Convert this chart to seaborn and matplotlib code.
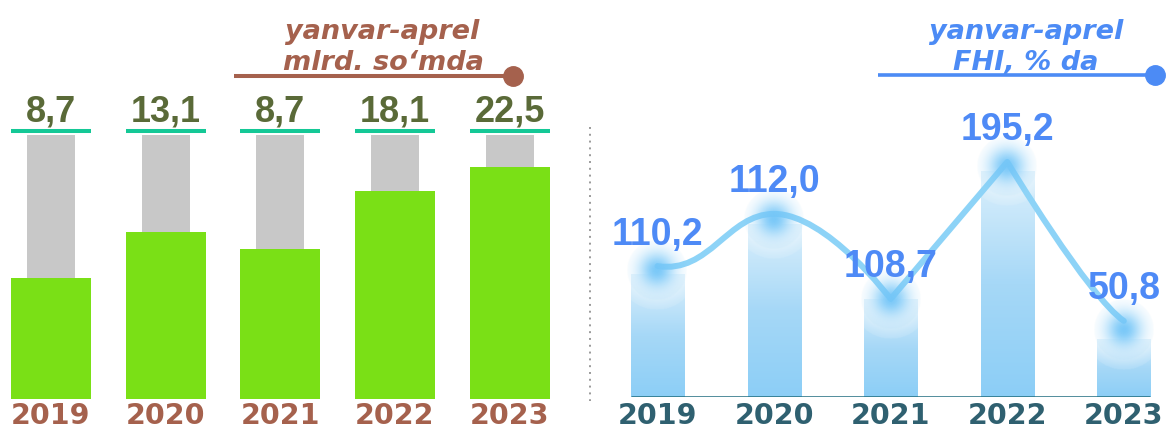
import numpy as np
import pandas as pd
import matplotlib
matplotlib.use("Agg")
import matplotlib.pyplot as plt
from matplotlib.path import Path
from matplotlib.patches import PathPatch
from matplotlib.lines import Line2D
from matplotlib.colors import LinearSegmentedColormap, to_rgb
import seaborn as sns

# ---------------- data ----------------
years = ["2019", "2020", "2021", "2022", "2023"]

# left panel: yanvar-aprel, mlrd. so'mda
mlrd_values = [8.7, 13.1, 8.7, 18.1, 22.5]
mlrd_full_level = [100, 100, 100, 100, 100]          # grey background bar (drawn level)
mlrd_fill_level = [45.8, 63.3, 56.8, 78.8, 87.9]     # green fill as drawn in the picture

# right panel: yanvar-aprel, FHI, % da
fhi_values = [110.2, 112.0, 108.7, 195.2, 50.8]
fhi_bar_level = [46.4, 65.3, 37.0, 85.3, 21.9]       # blue bar heights as drawn
fhi_line_level = [49.4, 69.1, 37.0, 88.7, 28.7]      # curve nodes as drawn


def fmt(v):
    return f"{v:.1f}".replace(".", ",")


# ---------------- style ----------------
sns.set_style("white")
plt.rcParams["font.family"] = ["DejaVu Sans"]

W, H = 1167, 431
fig = plt.figure(figsize=(W / 100, H / 100), dpi=100)
fig.patch.set_facecolor("white")


def px_rect(x0, y_top, w, h):
    return [x0 / W, (H - y_top - h) / H, w / W, h / H]


GREEN = "#7AE016"
GREY = "#C8C8C8"
TEAL = "#14C896"
OLIVE = "#5A6A38"
SIENNA = "#A5614D"
BLUE_TXT = "#4E8AF6"
SLATE = "#2F6070"

YEAR_FONT = dict(family="DejaVu Sans", weight="bold", size=20.5)
VAL_FONT = dict(family="Liberation Sans", weight="bold")
TITLE_FONT = dict(family="DejaVu Sans", weight="bold", style="oblique", size=19.5)

# ---------------- left panel ----------------
ax1 = fig.add_axes(px_rect(5.14, 80, 550.3, 320))
df1 = pd.DataFrame({"year": years, "full": mlrd_full_level,
                    "fill": mlrd_fill_level, "value": mlrd_values})
sns.barplot(data=df1, x="year", y="full", color=GREY, width=0.419,
            saturation=1, errorbar=None, linewidth=0, ax=ax1)
sns.barplot(data=df1, x="year", y="fill", color=GREEN, width=0.698,
            saturation=1, errorbar=None, linewidth=0, ax=ax1)
ax1.set_xlim(-0.4, 4.4)
ax1.set_ylim(0, 121.2)
xs = np.arange(len(years))
ax1.hlines([101.5] * len(xs), xs - 0.349, xs + 0.349, color=TEAL, lw=2.9)
for i, v in enumerate(mlrd_values):
    ax1.text(i, 105.3, fmt(v), ha="center", va="baseline", color=OLIVE,
             fontsize=26, **VAL_FONT)

# ---------------- right panel ----------------
ax2 = fig.add_axes(px_rect(587.5, 80, 579.5, 318))
df2 = pd.DataFrame({"year": years, "bar": fhi_bar_level,
                    "line": fhi_line_level, "value": fhi_values})
sns.barplot(data=df2, x="year", y="bar", color="#A9DAF7", width=0.455,
            saturation=1, errorbar=None, linewidth=0, ax=ax2)
cmap = LinearSegmentedColormap.from_list("g", ["#8CCEF6", "#A6D8F7", "#DCF0FC"])
grad = np.linspace(0, 1, 256).reshape(-1, 1)
for p in list(ax2.patches):
    x0, w, h = p.get_x(), p.get_width(), p.get_height()
    p.set_facecolor("none")
    im = ax2.imshow(grad, extent=[x0, x0 + w, 0, h], origin="lower",
                    aspect="auto", cmap=cmap, zorder=1)
    im.set_clip_path(p)


def glow(ax, x, y, r_px, color, amax, sigma, z):
    n = 121
    u = np.linspace(-1, 1, n)
    X, Y = np.meshgrid(u, u)
    r2 = X ** 2 + Y ** 2
    alpha = amax * np.exp(-r2 / (2 * sigma ** 2))
    alpha[r2 > 1] = 0
    rgba = np.zeros((n, n, 4))
    rgba[..., :3] = to_rgb(color)
    rgba[..., 3] = alpha
    rx = r_px / 116.6
    ry = r_px / 2.65
    ax.imshow(rgba, extent=[x - rx, x + rx, y - ry, y + ry], origin="lower",
              aspect="auto", zorder=z, interpolation="bilinear")


glow_y = [(b + l) / 2 for b, l in zip(fhi_bar_level, fhi_line_level)]
for i in range(len(xs)):
    glow(ax2, xs[i], glow_y[i], 40, "white", 0.9, 0.5, 2)

# smooth curve through the nodes (Bezier handles: style only)
h_out = [(0.45, -3.0), (0.45, 0.0), (0.0, 0.0), (0.0, 0.0)]
h_in = [(-0.4, 0.0), (0.0, 0.0), (0.0, 0.0), (-0.3, 9.0)]
verts = [(xs[0], fhi_line_level[0])]
codes = [Path.MOVETO]
for k in range(len(xs) - 1):
    p0 = np.array([xs[k], fhi_line_level[k]], float)
    p3 = np.array([xs[k + 1], fhi_line_level[k + 1]], float)
    verts += [tuple(p0 + h_out[k]), tuple(p3 + h_in[k]), tuple(p3)]
    codes += [Path.CURVE4] * 3
ax2.add_patch(PathPatch(Path(verts, codes), facecolor="none",
                        edgecolor="#8DD3F7", lw=4.3, capstyle="round",
                        joinstyle="round", zorder=3))

for i in range(len(xs)):
    glow(ax2, xs[i], glow_y[i], 30, "#74C6F8", 0.95, 0.42, 4)

ax2.hlines(0, xs[0] - 0.2275, xs[-1] + 0.2275, color="#1E6C7E", lw=1.8,
           zorder=5)
for i, v in enumerate(fhi_values):
    ax2.text(i, fhi_line_level[i] + 8.5, fmt(v), ha="center", va="baseline",
             color=BLUE_TXT, fontsize=27, zorder=6, **VAL_FONT)
ax2.set_xlim(-0.6, 4.37)
ax2.set_ylim(0, 120)

# ---------------- axes cosmetics ----------------
for ax, col, pad in [(ax1, SIENNA, 17.5), (ax2, SLATE, 18.6)]:
    ax.set_facecolor("none")
    for s in ax.spines.values():
        s.set_visible(False)
    ax.set_yticks([])
    ax.set_ylabel("")
    ax.set_xlabel("")
    ax.set_xticks(range(len(years)))
    ax.set_xticklabels(years)
    ax.tick_params(axis="x", length=0, pad=pad)
    for lbl in ax.get_xticklabels():
        lbl.set_color(col)
        lbl.set_fontfamily(YEAR_FONT["family"])
        lbl.set_fontweight(YEAR_FONT["weight"])
        lbl.set_fontsize(YEAR_FONT["size"])
        lbl.set_va("baseline")

# ---------------- titles & decorations ----------------
fig.text(382 / W, 1 - 39 / H, "yanvar-aprel", ha="center", va="baseline",
         color=SIENNA, **TITLE_FONT)
fig.text(383 / W, 1 - 70 / H, "mlrd. so‘mda", ha="center", va="baseline",
         color=SIENNA, **TITLE_FONT)
fig.add_artist(Line2D([234 / W, 513 / W], [1 - 77 / H, 1 - 77 / H],
                      color=SIENNA, lw=2.9, solid_capstyle="butt"))
fig.add_artist(Line2D([513 / W], [1 - 77 / H], marker="o", markersize=14,
                      color=SIENNA, lw=0))

fig.text(1026 / W, 1 - 39 / H, "yanvar-aprel", ha="center", va="baseline",
         color="#4C8BF5", **TITLE_FONT)
fig.text(1026 / W, 1 - 70 / H, "FHI, % da", ha="center", va="baseline",
         color="#4C8BF5", **TITLE_FONT)
fig.add_artist(Line2D([878 / W, 1155 / W], [1 - 76 / H, 1 - 76 / H],
                      color="#4C8BF5", lw=2.6, solid_capstyle="butt"))
fig.add_artist(Line2D([1155 / W], [1 - 76 / H], marker="o", markersize=14,
                      color="#4C8BF5", lw=0))

# dotted separator
fig.add_artist(Line2D([590 / W, 590 / W], [1 - 128 / H, 1 - 402 / H],
                      color="#9A9A9A", lw=1.4, ls=(0, (1, 2.5))))

fig.savefig("out.png", dpi=100, facecolor="white")
